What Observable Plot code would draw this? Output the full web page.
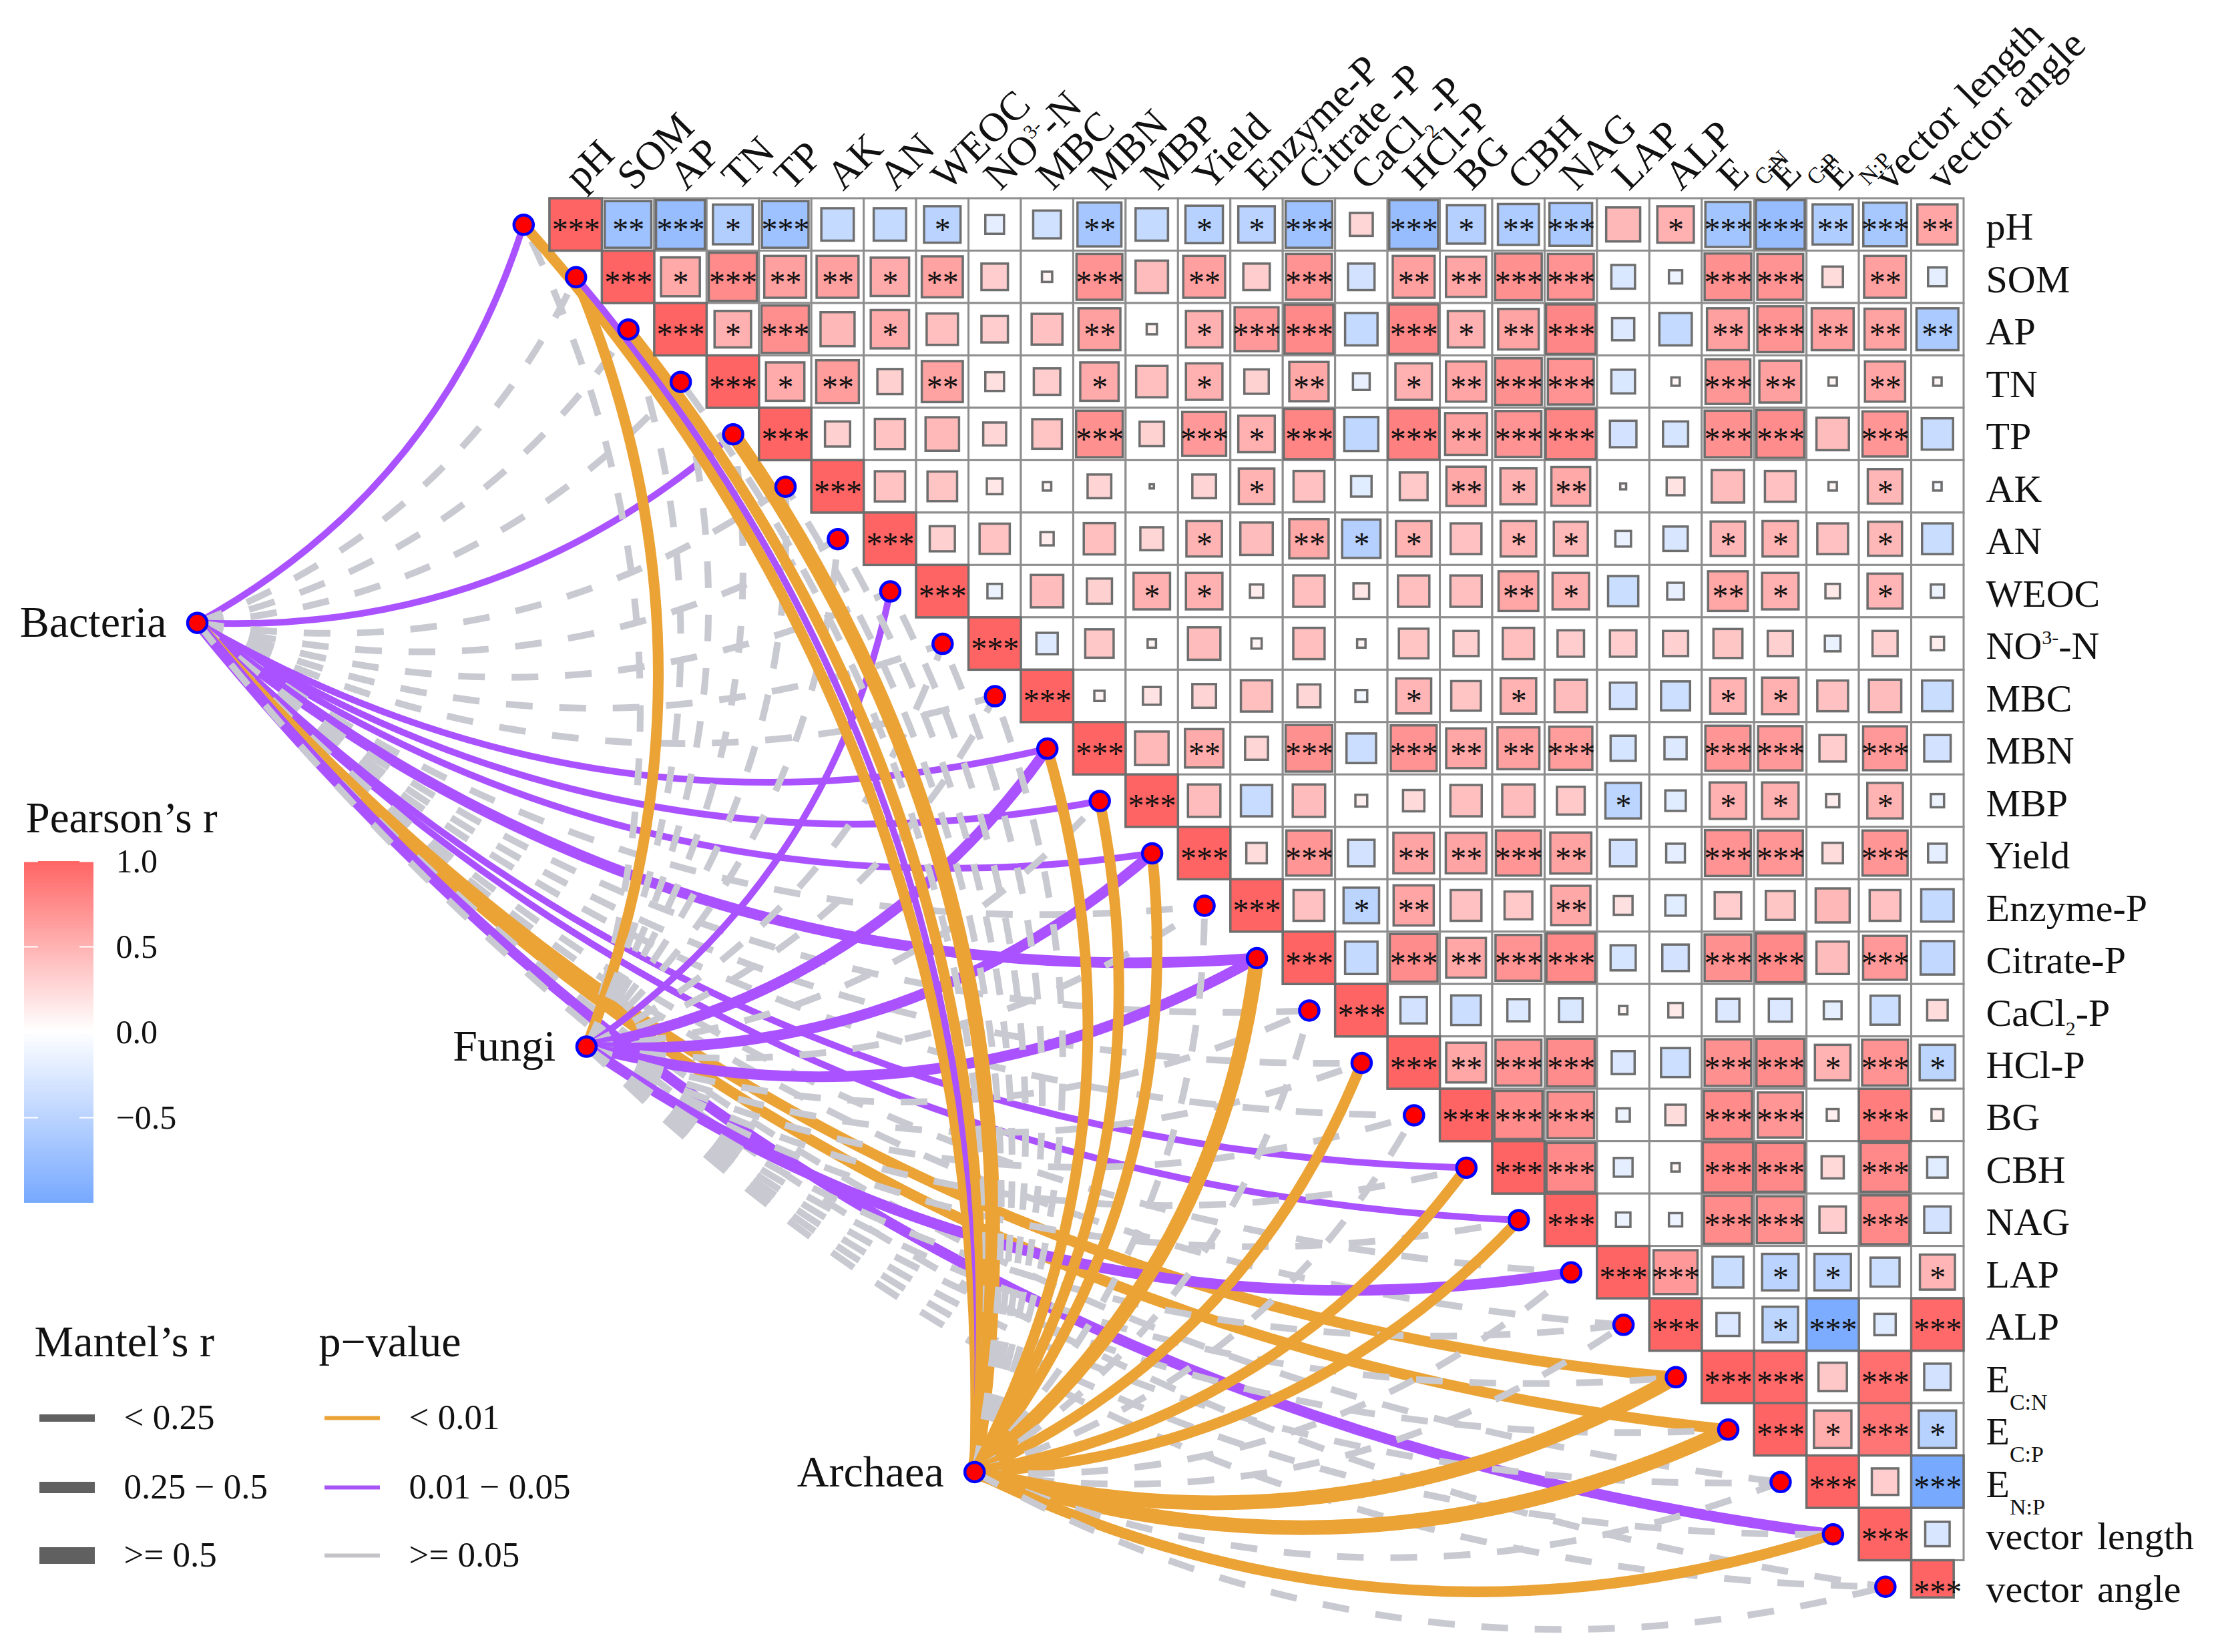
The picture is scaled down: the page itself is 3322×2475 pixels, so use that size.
<!DOCTYPE html>
<html><head><meta charset="utf-8">
<style>html,body{margin:0;padding:0;background:#fff;overflow:hidden}#c{position:relative;width:3322px;height:2475px}#c svg{position:absolute;left:0;top:0;background:transparent;max-width:none}</style>
<script src="https://cdn.jsdelivr.net/npm/d3@7"></script>
<script src="https://cdn.jsdelivr.net/npm/@observablehq/plot@0.6"></script>
</head><body><div id="c"></div>
<script>
const rowLabels = ["pH","SOM","AP","TN","TP","AK","AN","WEOC","NO3--N","MBC","MBN","MBP","Yield","Enzyme-P","Citrate-P","CaCl2-P","HCl-P","BG","CBH","NAG","LAP","ALP","EC:N","EC:P","EN:P","vector length","vector angle"];
const topLabels = ["pH","SOM","AP","TN","TP","AK","AN","WEOC","NO3--N","MBC","MBN","MBP","Yield","Enzyme-P","Citrate -P","CaCl2 -P","HCl-P","BG","CBH","NAG","LAP","ALP","EC:N","EC:P","EN:P","vector length","vector angle"];

// Pearson's r, upper triangle, each row starts right of the diagonal
const pearson = [
[-.62,-.68,-.45,-.62,-.3,-.3,-.38,-.1,-.22,-.55,-.3,-.4,-.38,-.62,.15,-.68,-.42,-.48,-.52,.33,.38,-.58,-.68,-.46,-.54,.46],
[.43,.66,.5,.5,.42,.48,.2,.03,.6,.3,.5,.2,.6,-.2,.5,.46,.62,.6,-.16,-.05,.62,.6,.12,.5,-.1],
[.38,.64,.33,.42,.28,.2,.27,.5,.03,.38,.55,.68,-.3,.7,.38,.47,.7,-.14,-.3,.5,.6,.5,.48,-.5],
[.42,.52,.18,.48,.1,.2,.42,.28,.38,.17,.44,-.08,.38,.46,.62,.6,-.16,.02,.57,.5,.02,.46,.02],
[.18,.26,.32,.15,.25,.62,.17,.55,.38,.72,-.33,.75,.5,.6,.72,-.2,-.18,.62,.65,.3,.58,-.28],
[.26,.25,.07,.02,.16,.005,.16,.36,.27,-.12,.22,.44,.37,.43,.01,.09,.3,.27,.02,.34,-.02],
[.18,.26,.05,.28,.15,.36,.3,.44,-.42,.36,.27,.36,.33,-.07,-.17,.34,.36,.27,.33,-.27],
[-.06,.3,.18,.38,.38,.05,.28,.07,.28,.28,.45,.38,-.26,-.08,.45,.38,.06,.35,-.05],
[-.13,.23,.02,.3,.03,.28,.02,.25,.18,.28,.2,.2,.18,.24,.18,-.07,.18,.05],
[.03,.09,.16,.28,.15,-.04,.35,.25,.36,.3,-.2,-.24,.36,.38,.27,.3,-.27],
[.32,.42,.15,.62,-.25,.6,.45,.5,.53,-.18,-.14,.58,.56,.2,.55,-.2],
[.3,-.28,.3,.04,.13,.28,.3,.22,-.36,-.12,.38,.38,.05,.36,-.05],
[.12,.58,-.2,.47,.47,.58,.48,-.2,-.1,.6,.58,.12,.58,-.1],
[.27,-.36,.46,.27,.22,.44,.1,-.12,.2,.24,.33,.27,-.3],
[-.3,.65,.45,.6,.68,-.18,-.2,.62,.68,.3,.55,-.32],
[-.2,-.25,-.14,-.16,.02,.06,-.15,-.15,-.09,-.24,.12],
[.45,.6,.65,-.15,-.24,.62,.65,.36,.6,-.36],
[.66,.62,-.05,.12,.66,.58,.04,.78,.04],
[.68,-.1,.02,.72,.68,.14,.68,-.12],
[-.06,-.05,.66,.63,.2,.68,-.2],
[.55,-.27,-.38,-.38,-.24,.35],
[-.15,-.36,-.95,-.13,.95],
[.95,.23,.9,-.2],
[.4,.85,-.4],
[.2,-1],
[-.17]
];
// number of significance stars, same layout
const stars = [
[2,3,1,3,0,0,1,0,0,2,0,1,1,3,0,3,1,2,3,0,1,3,3,2,3,2],
[1,3,2,2,1,2,0,0,3,0,2,0,3,0,2,2,3,3,0,0,3,3,0,2,0],
[1,3,0,1,0,0,0,2,0,1,3,3,0,3,1,2,3,0,0,2,3,2,2,2],
[1,2,0,2,0,0,1,0,1,0,2,0,1,2,3,3,0,0,3,2,0,2,0],
[0,0,0,0,0,3,0,3,1,3,0,3,2,3,3,0,0,3,3,0,3,0],
[0,0,0,0,0,0,0,1,0,0,0,2,1,2,0,0,0,0,0,1,0],
[0,0,0,0,0,1,0,2,1,1,0,1,1,0,0,1,1,0,1,0],
[0,0,0,1,1,0,0,0,0,0,2,1,0,0,2,1,0,1,0],
[0,0,0,0,0,0,0,0,0,0,0,0,0,0,0,0,0,0],
[0,0,0,0,0,0,1,0,1,0,0,0,1,1,0,0,0],
[0,2,0,3,0,3,2,2,3,0,0,3,3,0,3,0],
[0,0,0,0,0,0,0,0,1,0,1,1,0,1,0],
[0,3,0,2,2,3,2,0,0,3,3,0,3,0],
[0,1,2,0,0,2,0,0,0,0,0,0,0],
[0,3,2,3,3,0,0,3,3,0,3,0],
[0,0,0,0,0,0,0,0,0,0,0],
[2,3,3,0,0,3,3,1,3,1],
[3,3,0,0,3,3,0,3,0],
[3,0,0,3,3,0,3,0],
[0,0,3,3,0,3,0],
[3,0,1,1,0,1],
[0,1,3,0,3],
[3,0,3,0],
[1,3,1],
[0,3],
[0]
];

// Mantel nodes (grid units: column, row)
const envNames = ["Bacteria","Fungi","Archaea"];
const envCol = [-7.23, 0.2, 7.61];
const envRow = [7.6, 15.69, 23.81];
// p class per target: g >= 0.05, p 0.01-0.05, o < 0.01 ; r class 0,1,2
const mantelP = [
"pgggpgggggpppgpgggppggoogpg",
"gogggggpggpgpgpgggggpgggggg",
"opogogggggooogogogoogg"+"oogog"
];
const mantelR = [
[0,0,0,0,0,0,0,0,0,0,0,0,0,0,1,0,0,0,0,0,0,0,1,1,0,1,0],
[0,1,0,0,0,0,0,0,0,0,1,0,1,0,1,0,0,0,0,0,1,0,0,0,0,0,0],
[1,0,1,0,2,0,0,0,0,0,1,1,1,0,2,0,1,0,1,1,0,0,2,2,0,1,0]
];
const pColor = {o:"#eba336", p:"#aa52ff", g:"#c9cad1"};
const rWidth = [10,16,22];

const sizeLabels = ["< 0.25","0.25 \u2212 0.5",">= 0.5"];
const pLabels = ["< 0.01","0.01 \u2212 0.05",">= 0.05"];
const pLegendColors = ["#eba336","#a855f7","#c4c4c8"];
const sizeLegendWidths = [11,17,25];
const colorTicks = [-0.5,0,0.5,1];

const serif = "'Liberation Serif','Times New Roman',serif";
const ramp = d3.piecewise(d3.interpolateRgb, ["#77a9ff","#ffffff","#ff6464"]);

// ---- build tables ----
const cells = [];
rowLabels.forEach((_, i) => {
  const last = i === rowLabels.length - 1;
  cells.push({col:i,row:i,r:1,star:3,side:1,last});
  (pearson[i]||[]).forEach((r,k)=>{
    const col=i+1+k;
    cells.push({col,row:i,r,star:stars[i][k],side:Math.min(1,1.13*Math.sqrt(Math.abs(r))),last:false});
  });
});
const nodes = rowLabels.map((n,i)=>({x:i-1,y:i}));
const env = envNames.map((name,e)=>({name,x:envCol[e],y:envRow[e]}));
const links = [];
envNames.forEach((_,e)=>rowLabels.forEach((_,s)=>links.push({x1:envCol[e],y1:envRow[e],x2:s-1,y2:s,p:mantelP[e][s],w:mantelR[e][s]})));

// bowed link: a curve factory the link mark calls with the scaled end points
function bowed(context){
  let pts=[];
  return {lineStart(){pts=[]},point(x,y){pts.push([x,y])},lineEnd(){
    const [[x0,y0],[x1,y1]]=pts, dx=x1-x0, dy=y1-y0, c=0.2;
    context.moveTo(x0,y0);
    context.quadraticCurveTo((x0+x1)/2-dy*c,(y0+y1)/2+dx*c,x1,y1);
  },areaStart(){},areaEnd(){}};
}
const cropY = .71, cropX = .81;   // the last cell is cut short in the figure

const main = Plot.plot({
  width:3322,height:2475,margin:0,
  style:{fontFamily:serif,background:"transparent"},
  x:{domain:[-.5,26.5],range:[823,2941],axis:null},
  y:{domain:[-.5,26.5],range:[297,2416],axis:null},
  color:{type:"diverging-pow",exponent:.7,domain:[-1,1],interpolate:ramp},
  marks:[
    ...links.map(l=>Plot.link([l],{x1:"x1",y1:"y1",x2:"x2",y2:"y2",curve:bowed,
      stroke:pColor[l.p],strokeWidth:l.p==="g"?10:rWidth[l.w],strokeDasharray:l.p==="g"?"40,40":null})),
    Plot.rect(cells,{x1:d=>d.col-.5,x2:d=>d.col+(d.last?cropX-.5:.5),y1:d=>d.row-.5,y2:d=>d.row+(d.last?cropY-.5:.5),fill:"white",stroke:"#8e8e8e",strokeWidth:3}),
    Plot.rect(cells,{x1:d=>d.col-d.side/2,x2:d=>d.last?d.col+cropX-.5:d.col+d.side/2,y1:d=>d.row-d.side/2,y2:d=>d.last?d.row+cropY-.5:d.row+d.side/2,fill:"r",stroke:"#6e6e6e",strokeWidth:3.5}),
    Plot.text(cells.filter(d=>d.star>0),{x:"col",y:"row",text:d=>"*".repeat(d.star),fontSize:48,dy:8,fill:"#111"}),
    Plot.dot(nodes,{x:"x",y:"y",r:14.5,fill:"#ff0000",stroke:"#0000ff",strokeWidth:4.5}),
    Plot.dot(env,{x:"x",y:"y",r:14.5,fill:"#ff0000",stroke:"#0000ff",strokeWidth:4.5}),
    Plot.text(env,{x:"x",y:"y",text:"name",textAnchor:"end",dx:-46,fontSize:66,fill:"#111"}),
    Plot.text(rowLabels,{x:()=>26.5,y:(d,i)=>i,text:d=>d,textAnchor:"start",dx:33,dy:4,fontSize:58,fill:"#111"}),
    Plot.text(topLabels,{x:(d,i)=>i,y:()=>-.5,text:d=>d,textAnchor:"start",rotate:-45,dx:-6,dy:-24,fontSize:61,fill:"#111"})
  ]
});

// sub/superscripts in labels
const rich = {
 "NO3--N":[["NO"],["3-","sup"],["-N"]],
 "CaCl2-P":[["CaCl"],["2","sub"],["-P"]],
 "CaCl2 -P":[["CaCl"],["2","sub"],[" -P"]],
 "EC:N":[["E"],["C:N","sub"]],"EC:P":[["E"],["C:P","sub"]],"EN:P":[["E"],["N:P","sub"]]
};
main.querySelectorAll("text").forEach(t=>{
  if(t.textContent.startsWith("vector")) t.setAttribute("word-spacing","7");
  const parts=rich[t.textContent]; if(!parts) return;
  t.textContent="";
  let prev=0;
  for(const [s,kind] of parts){
    const sp=document.createElementNS("http://www.w3.org/2000/svg","tspan");
    const off=kind==="sub"?(s.includes(":")?26:14):kind==="sup"?-22:0;
    sp.setAttribute("dy",off-prev); prev=off;
    if(kind) sp.setAttribute("font-size",s.includes(":")?34:30);
    sp.textContent=s; t.appendChild(sp);
  }
});

// colour bar: its own r scale
const strips = d3.range(-1,1,.01);
const colorBar = Plot.plot({
  width:500,height:1900,margin:0,
  style:{fontFamily:serif,background:"transparent"},
  x:{domain:[0,500],range:[0,500],axis:null},
  y:{domain:[-1,1],range:[1802,1290],axis:null},
  color:{type:"linear",domain:[-1,1],interpolate:ramp},
  marks:[
    Plot.rect(strips,{x1:()=>36,x2:()=>140,y1:d=>d,y2:d=>d+.01,fill:d=>d,shapeRendering:"crispEdges"}),
    Plot.ruleY(colorTicks,{x1:()=>36,x2:()=>57,stroke:"white",strokeWidth:2}),
    Plot.ruleY(colorTicks,{x1:()=>119,x2:()=>140,stroke:"white",strokeWidth:2}),
    Plot.text(colorTicks,{x:()=>173,y:d=>d,text:d=>d<0?"\u2212"+Math.abs(d).toFixed(1):d.toFixed(1),textAnchor:"start",fontSize:50,fill:"#111"}),
    Plot.text(["Pearson\u2019s r"],{x:()=>38,y:()=>1.25,text:d=>d,textAnchor:"start",fontSize:65,fill:"#111"})
  ]
});

// line legends
const rowsY=[2124,2228,2330];
const lineLegend = Plot.plot({
  width:1000,height:2475,margin:0,
  style:{fontFamily:serif,background:"transparent"},
  x:{domain:[0,1000],range:[0,1000],axis:null},
  y:{domain:[0,2475],range:[0,2475],axis:null},
  marks:[
    Plot.ruleY(sizeLabels,{y:(d,i)=>rowsY[i],x1:()=>59,x2:()=>142,stroke:"#606060",strokeWidth:(d,i)=>sizeLegendWidths[i]}),
    Plot.ruleY(pLabels,{y:(d,i)=>rowsY[i],x1:()=>486,x2:()=>569,stroke:(d,i)=>pLegendColors[i],strokeWidth:6}),
    Plot.text(sizeLabels,{x:()=>185,y:(d,i)=>rowsY[i],text:d=>d,textAnchor:"start",fontSize:53,fill:"#111"}),
    Plot.text(pLabels,{x:()=>612,y:(d,i)=>rowsY[i],text:d=>d,textAnchor:"start",fontSize:53,fill:"#111"}),
    Plot.text(["Mantel\u2019s r"],{x:()=>51,y:()=>2010,text:d=>d,textAnchor:"start",fontSize:66,fill:"#111"}),
    Plot.text(["p\u2212value"],{x:()=>477,y:()=>2010,text:d=>d,textAnchor:"start",fontSize:66,fill:"#111"})
  ]
});
const box=document.getElementById("c");
box.append(main,colorBar,lineLegend);
</script></body></html>
